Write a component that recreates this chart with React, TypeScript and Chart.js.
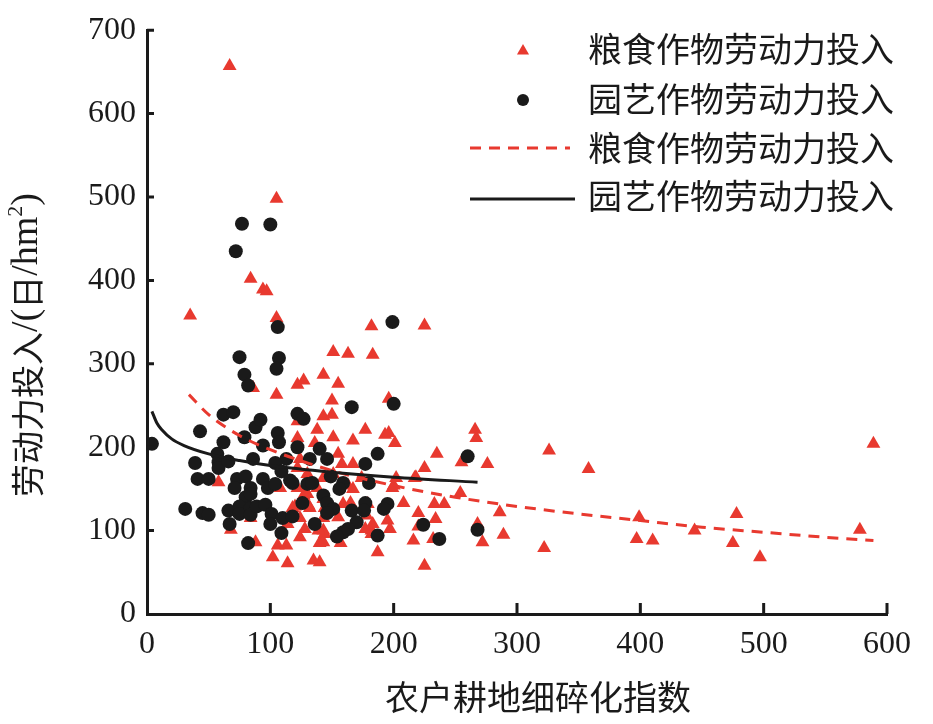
import React, { useEffect, useRef } from 'react';
import { Chart, registerables } from 'chart.js';

Chart.register(...registerables);

const RED = '#e8392f';
const BLACK = '#1a1a1a';

const xTicks = [0, 100, 200, 300, 400, 500, 600];
const yTicks = [0, 100, 200, 300, 400, 500, 600, 700];

const grainLabel = '粮食作物劳动力投入';
const hortLabel = '园艺作物劳动力投入';
const xTitle = '农户耕地细碎化指数';

const grainPoints: [number, number][] = [
  [67, 657], [105, 498], [84, 402], [94, 389], [97, 387], [35, 358], [105, 355], [86, 271], [105, 263], [122, 275],
  [127, 280], [182, 345], [225, 346], [151, 314], [163, 312], [183, 311], [143, 287], [155, 276], [196, 258], [150, 256],
  [143, 237], [150, 239], [138, 221], [177, 221], [151, 212], [167, 208], [193, 215], [196, 217], [201, 205], [122, 211],
  [155, 192], [235, 192], [266, 221], [267, 211], [255, 182], [276, 180], [225, 175], [167, 180], [127, 151], [130, 144],
  [144, 127], [132, 127], [165, 133], [143, 100], [124, 92], [140, 85], [157, 85], [177, 102], [195, 112], [182, 100],
  [208, 133], [220, 121], [233, 132], [241, 132], [234, 114], [220, 105], [216, 88], [232, 90], [272, 86], [187, 74],
  [225, 58], [135, 64], [140, 62], [155, 116], [326, 196], [358, 174], [589, 204], [217, 163], [200, 154], [254, 145],
  [286, 122], [289, 95], [322, 79], [399, 116], [397, 90], [410, 88], [444, 100], [478, 120], [475, 85], [497, 68],
  [578, 101], [268, 108], [202, 163], [199, 151], [218, 164], [58, 158], [84, 115], [68, 101], [114, 108], [120, 129],
  [88, 86], [106, 82], [113, 82], [102, 68], [114, 61], [136, 205], [124, 186], [158, 180], [130, 168], [151, 168],
  [143, 163], [163, 154], [167, 150], [174, 163], [127, 142], [131, 130], [143, 138], [159, 132], [179, 132], [143, 115],
  [178, 118], [183, 108], [128, 102], [144, 96], [143, 86], [182, 96], [197, 102], [108, 151], [129, 144], [138, 151],
  [118, 127], [124, 115], [139, 100], [122, 151], [122, 231], [122, 175],
];

const hortPoints: [number, number][] = [
  [77, 468], [100, 467], [72, 435], [199, 350], [106, 344], [75, 308], [107, 307], [105, 294], [79, 287], [82, 274],
  [62, 239], [70, 242], [122, 240], [43, 219], [88, 224], [92, 233], [106, 217], [62, 206], [79, 212], [94, 202],
  [107, 206], [122, 200], [4, 204], [57, 192], [113, 186], [39, 181], [58, 182], [58, 175], [66, 183], [86, 186],
  [104, 181], [109, 171], [41, 162], [50, 162], [73, 162], [80, 165], [94, 162], [98, 151], [104, 156], [116, 160],
  [71, 151], [84, 151], [80, 140], [31, 126], [45, 121], [50, 119], [66, 124], [75, 129], [75, 120], [84, 127],
  [84, 119], [89, 129], [96, 131], [101, 120], [110, 115], [118, 117], [67, 108], [100, 108], [109, 97], [82, 85],
  [200, 252], [166, 248], [127, 234], [140, 198], [132, 186], [146, 186], [187, 192], [177, 180], [260, 189], [118, 157],
  [130, 156], [134, 157], [149, 165], [159, 157], [156, 150], [180, 157], [126, 133], [143, 142], [146, 133], [151, 126],
  [146, 121], [166, 124], [177, 133], [176, 124], [195, 132], [192, 126], [136, 108], [170, 110], [163, 102], [159, 98],
  [154, 93], [187, 94], [224, 107], [237, 90], [268, 101], [84, 144],
];

const grainFitX = [34, 50, 75, 100, 150, 200, 250, 300, 350, 400, 450, 500, 550, 589];
const grainFitY = [263, 239, 214, 197, 172, 154, 140, 129, 120, 112, 104, 98, 92, 88];
const hortFitX = [4, 8, 12, 20, 30, 50, 75, 100, 150, 200, 268];
const hortFitY = [243, 229, 221, 210, 202, 192, 184, 178, 170, 164, 158];

const SERIF = '"Liberation Serif", "Times New Roman", serif';
const CJK = '"Noto Sans CJK SC", sans-serif';

const decorPlugin = {
  id: 'decor',
  afterDraw(chart: any) {
    const ctx: CanvasRenderingContext2D = chart.ctx;
    const xs = chart.scales.x;
    const ys = chart.scales.y;
    const area = chart.chartArea;
    ctx.save();
    // inward tick marks
    ctx.strokeStyle = BLACK;
    ctx.lineWidth = 3;
    ctx.beginPath();
    xTicks.forEach((v) => {
      if (v === 0) return;
      const px = xs.getPixelForValue(v);
      ctx.moveTo(px, area.bottom);
      ctx.lineTo(px, area.bottom - 11);
    });
    yTicks.forEach((v) => {
      if (v === 0) return;
      const py = ys.getPixelForValue(v);
      ctx.moveTo(area.left, py);
      ctx.lineTo(area.left + 7, py);
    });
    ctx.stroke();

    // x title
    ctx.fillStyle = BLACK;
    ctx.font = `34px ${CJK}`;
    ctx.textAlign = 'center';
    ctx.textBaseline = 'middle';
    ctx.fillText(xTitle, 538, 697);

    // y title (rotated, mixed fonts)
    ctx.save();
    ctx.translate(27, 497);
    ctx.rotate(-Math.PI / 2);
    ctx.textAlign = 'left';
    ctx.textBaseline = 'middle';
    const segs: { t: string; f: string; dy: number }[] = [
      { t: '劳动力投入', f: `33px ${CJK}`, dy: 0 },
      { t: '/(', f: `38px ${SERIF}`, dy: 0 },
      { t: '日', f: `33px ${CJK}`, dy: 0 },
      { t: '/hm', f: `38px ${SERIF}`, dy: 0 },
      { t: '2', f: `22px ${SERIF}`, dy: -11 },
      { t: ')', f: `38px ${SERIF}`, dy: 0 },
    ];
    let cx = 0;
    segs.forEach((s) => {
      ctx.font = s.f;
      ctx.fillText(s.t, cx, s.dy);
      cx += ctx.measureText(s.t).width;
    });
    ctx.restore();

    // legend
    const mx = 523;
    const tx = 588;
    ctx.fillStyle = RED;
    const r = 7;
    const ty = 51;
    ctx.beginPath();
    ctx.moveTo(mx, ty - r);
    ctx.lineTo(mx + r * Math.sin((2 * Math.PI) / 3), ty - r * Math.cos((2 * Math.PI) / 3));
    ctx.lineTo(mx + r * Math.sin((4 * Math.PI) / 3), ty - r * Math.cos((4 * Math.PI) / 3));
    ctx.closePath();
    ctx.fill();
    ctx.fillStyle = BLACK;
    ctx.beginPath();
    ctx.arc(mx, 100, 6, 0, Math.PI * 2);
    ctx.fill();
    ctx.strokeStyle = RED;
    ctx.lineWidth = 3;
    ctx.setLineDash([11, 8]);
    ctx.beginPath();
    ctx.moveTo(470, 148);
    ctx.lineTo(570, 148);
    ctx.stroke();
    ctx.setLineDash([]);
    ctx.strokeStyle = BLACK;
    ctx.beginPath();
    ctx.moveTo(470, 199);
    ctx.lineTo(575, 199);
    ctx.stroke();

    ctx.fillStyle = BLACK;
    ctx.font = `34px ${CJK}`;
    ctx.textAlign = 'left';
    ctx.textBaseline = 'middle';
    ctx.fillText(grainLabel, tx, 49);
    ctx.fillText(hortLabel, tx, 99);
    ctx.fillText(grainLabel, tx, 148);
    ctx.fillText(hortLabel, tx, 196);
    ctx.restore();
  },
};

export default function App() {
  const ref = useRef<HTMLCanvasElement>(null);
  useEffect(() => {
    document.body.style.margin = '0';
    const tickFont = { family: SERIF, size: 32 };
    const chart = new Chart(ref.current!, {
      type: 'scatter',
      data: {
        datasets: [
          {
            label: hortLabel,
            type: 'line',
            data: hortFitX.map((x, i) => ({ x, y: hortFitY[i] })),
            borderColor: BLACK,
            borderWidth: 3,
            pointRadius: 0,
            fill: false,
            cubicInterpolationMode: 'monotone',
            order: 0,
          } as any,
          {
            label: grainLabel,
            type: 'line',
            data: grainFitX.map((x, i) => ({ x, y: grainFitY[i] })),
            borderColor: RED,
            borderWidth: 3,
            borderDash: [11, 8],
            pointRadius: 0,
            fill: false,
            cubicInterpolationMode: 'monotone',
            order: 1,
          } as any,
          {
            label: hortLabel,
            data: hortPoints.map(([x, y]) => ({ x, y })),
            pointStyle: 'circle',
            pointRadius: 7,
            backgroundColor: BLACK,
            borderWidth: 0,
            order: 2,
          } as any,
          {
            label: grainLabel,
            data: grainPoints.map(([x, y]) => ({ x, y })),
            pointStyle: 'triangle',
            pointRadius: 8,
            backgroundColor: RED,
            borderWidth: 0,
            order: 3,
          } as any,
        ],
      },
      options: {
        responsive: false,
        animation: false,
        layout: { padding: { top: 26, right: 46, left: 0, bottom: 0 } },
        plugins: { legend: { display: false }, tooltip: { enabled: false } },
        scales: {
          x: {
            type: 'linear',
            min: 0,
            max: 600,
            ticks: { stepSize: 100, font: tickFont, color: BLACK, padding: 11 },
            grid: { display: false, drawTicks: false },
            border: { display: true, color: BLACK, width: 3 },
            afterFit: (s: any) => {
              s.height = 110;
            },
          },
          y: {
            type: 'linear',
            min: 0,
            max: 700,
            ticks: { stepSize: 100, font: tickFont, color: BLACK, padding: 11 },
            grid: { display: false, drawTicks: false },
            border: { display: true, color: BLACK, width: 3 },
            afterFit: (s: any) => {
              s.width = 147;
            },
          },
        },
      } as any,
      plugins: [decorPlugin],
    });
    return () => chart.destroy();
  }, []);
  return <canvas ref={ref} width={933} height={724} style={{ display: 'block', width: 933, height: 724 }} />;
}
